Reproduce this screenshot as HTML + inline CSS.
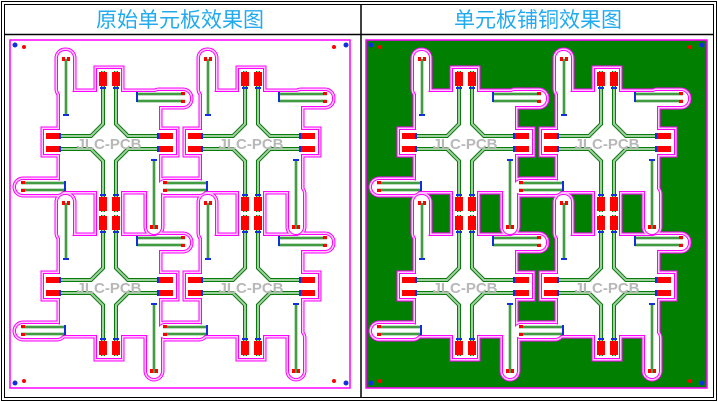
<!DOCTYPE html>
<html><head><meta charset="utf-8"><style>
html,body{margin:0;padding:0;background:#fff;}
svg{display:block;}
</style></head><body>
<svg width="718" height="402" viewBox="0 0 718 402" xmlns="http://www.w3.org/2000/svg">
<defs>
<g id="sh">
<rect x="-37" y="23" width="99" height="99"/>
<rect x="0" y="0" width="24" height="25"/>
<rect x="0" y="120" width="24" height="25"/>
<rect x="-53" y="61" width="18" height="24"/>
<rect x="60" y="61" width="19" height="24"/>
<rect x="-39" y="-18" width="15" height="45" rx="7"/>
<rect x="55" y="22" width="38" height="15" rx="7"/>
<rect x="-81" y="111" width="48" height="14" rx="7"/>
<rect x="50" y="118" width="14" height="47" rx="7"/>
</g>
<g id="tr">
<g fill="none" stroke-linejoin="miter">
<g stroke="#0a7a0a" stroke-width="4">
<polyline points="6,2 6,55 -6,67 -48,67"/>
<polyline points="19,2 19,55 31,67 74,67"/>
<polyline points="-48,80 -6,80 6,92 6,143"/>
<polyline points="74,80 31,80 19,92 19,143"/>
</g>
<g stroke="#0a7a0a" stroke-width="2.5">
<line x1="-31" y1="-10" x2="-31" y2="45"/>
<line x1="40" y1="25" x2="88" y2="25"/><line x1="40" y1="32" x2="88" y2="32"/>
<line x1="-76" y1="114" x2="-32" y2="114"/><line x1="-76" y1="121" x2="-32" y2="121"/>
<line x1="57" y1="92" x2="57" y2="160"/>
</g>
<g stroke="#9fd09f" stroke-width="2">
<polyline points="6,2 6,55 -6,67 -48,67"/>
<polyline points="19,2 19,55 31,67 74,67"/>
<polyline points="-48,80 -6,80 6,92 6,143"/>
<polyline points="74,80 31,80 19,92 19,143"/>
</g>
<g stroke="#9fd09f" stroke-width="0.8">
<line x1="-31" y1="-10" x2="-31" y2="45"/>
<line x1="40" y1="25" x2="88" y2="25"/><line x1="40" y1="32" x2="88" y2="32"/>
<line x1="-76" y1="114" x2="-32" y2="114"/><line x1="-76" y1="121" x2="-32" y2="121"/>
<line x1="57" y1="92" x2="57" y2="160"/>
</g>
</g>
<g fill="#f00">
<rect x="2" y="3" width="8" height="14"/><rect x="15" y="3" width="8" height="14"/>
<rect x="2" y="128" width="8" height="14"/><rect x="15" y="128" width="8" height="14"/>
<rect x="-51" y="64" width="13" height="6"/><rect x="-51" y="77" width="13" height="6"/>
<rect x="62" y="64" width="14" height="6"/><rect x="62" y="77" width="14" height="6"/>
<rect x="-35" y="-12" width="3" height="4"/><rect x="-30" y="-12" width="3" height="4"/>
<rect x="84" y="23" width="4" height="3"/><rect x="84" y="31" width="4" height="3"/>
<rect x="-76" y="112" width="4" height="3"/><rect x="-76" y="120" width="4" height="3"/>
<rect x="53" y="156" width="3" height="4"/><rect x="58" y="156" width="3" height="4"/>
</g>
<g fill="#1030e0">
<rect x="3" y="18" width="6" height="2"/><rect x="16" y="18" width="6" height="2"/>
<rect x="3" y="125" width="6" height="2"/><rect x="16" y="125" width="6" height="2"/>
<rect x="-38" y="64" width="2" height="6"/><rect x="-38" y="77" width="2" height="6"/>
<rect x="60" y="64" width="2" height="6"/><rect x="60" y="77" width="2" height="6"/>
<rect x="-34" y="45" width="6" height="2"/><rect x="39" y="23" width="2" height="10"/>
<rect x="-33" y="112" width="2" height="10"/><rect x="54" y="90" width="6" height="2"/>
</g>
<text x="12" y="80" font-family="Liberation Sans, sans-serif" font-weight="bold" font-size="15" fill="#b8b8b8" text-anchor="middle">JLC-PCB</text>
</g>
<g id="panel">
<g fill="none" stroke="#ff00ff" stroke-width="7">
<use href="#sh" transform="translate(97,69)"/><use href="#sh" transform="translate(239,69)"/>
<use href="#sh" transform="translate(97,213)"/><use href="#sh" transform="translate(239,213)"/>
</g>
<g fill="none" stroke="#ffc8ff" stroke-width="5">
<use href="#sh" transform="translate(97,69)"/><use href="#sh" transform="translate(239,69)"/>
<use href="#sh" transform="translate(97,213)"/><use href="#sh" transform="translate(239,213)"/>
</g>
<g fill="none" stroke="#ff00ff" stroke-width="2">
<use href="#sh" transform="translate(97,69)"/><use href="#sh" transform="translate(239,69)"/>
<use href="#sh" transform="translate(97,213)"/><use href="#sh" transform="translate(239,213)"/>
</g>
<g fill="#fff" stroke="none">
<use href="#sh" transform="translate(97,69)"/><use href="#sh" transform="translate(239,69)"/>
<use href="#sh" transform="translate(97,213)"/><use href="#sh" transform="translate(239,213)"/>
</g>
<use href="#tr" transform="translate(97,69)"/><use href="#tr" transform="translate(239,69)"/>
<use href="#tr" transform="translate(97,213)"/><use href="#tr" transform="translate(239,213)"/>
<circle cx="15" cy="45" r="2.5" fill="#1030e0"/><circle cx="24" cy="47" r="2" fill="#f00"/>
<circle cx="346" cy="45" r="2.5" fill="#1030e0"/><circle cx="334" cy="47" r="2" fill="#f00"/>
<circle cx="15" cy="383" r="2.5" fill="#1030e0"/><circle cx="24" cy="381" r="2" fill="#f00"/>
<circle cx="346" cy="383" r="2.5" fill="#1030e0"/><circle cx="334" cy="381" r="2" fill="#f00"/>
</g>
</defs>
<rect x="0" y="0" width="718" height="402" fill="#fff"/>
<rect x="1.5" y="1.5" width="715" height="399" fill="none" stroke="#000" stroke-width="1"/>
<rect x="4.5" y="4.5" width="709" height="393" fill="none" stroke="#000" stroke-width="1"/>
<line x1="4" y1="34.5" x2="714" y2="34.5" stroke="#000" stroke-width="1.5"/>
<line x1="361" y1="4" x2="361" y2="398" stroke="#000" stroke-width="1.5"/>
<text x="180" y="27" font-family="Liberation Sans, 'Noto Sans CJK SC', sans-serif" font-size="21" fill="#22aaee" text-anchor="middle">原始单元板效果图</text>
<text x="538" y="27" font-family="Liberation Sans, 'Noto Sans CJK SC', sans-serif" font-size="21" fill="#22aaee" text-anchor="middle">单元板铺铜效果图</text>
<rect x="10" y="40" width="340" height="348" fill="#fff" stroke="#ff00ff" stroke-width="1.5"/>
<use href="#panel"/>
<rect x="366" y="40" width="341" height="348" fill="#007f00" stroke="#ff00ff" stroke-width="1.5"/>
<use href="#panel" transform="translate(356,0)"/>
</svg>
</body></html>
